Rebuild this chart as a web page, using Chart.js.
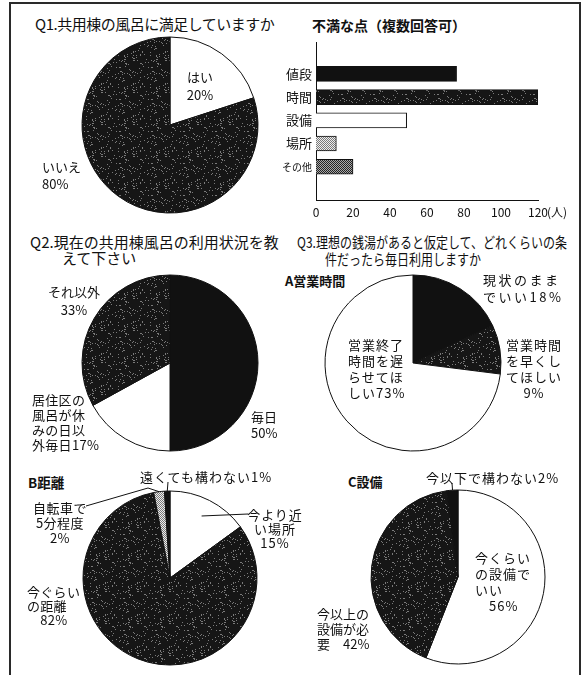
<!DOCTYPE html>
<html lang="ja">
<head>
<meta charset="utf-8">
<script src="https://cdn.jsdelivr.net/npm/chart.js@4.4.1/dist/chart.umd.min.js"></script>
<style>
  body { margin: 0; background: #fff; }
  #page { position: relative; width: 588px; height: 675px; overflow: hidden;
          font-family: 'Noto Sans CJK JP', sans-serif; color: #111; }
  #frame { position: absolute; left: 9px; top: 2px; width: 568px; height: 700px; border: 2px solid #2a2a2a; }
  .box { position: absolute; }
  .txt { position: absolute; white-space: pre; font-size: 13px; line-height: 16px; }
  .title { font-size: 15px; line-height: 18px; }
</style>
</head>
<body>
<div id="page"><div id="frame"></div></div>
<script>
// Q1 satisfied with the shared bath?
const q1Labels = ['はい', 'いいえ'];
const q1Values = [20, 80];

// complaints (multiple answers), people
const complaintLabels = ['値段', '時間', '設備', '場所', 'その他'];
const complaintValues = [76, 120, 49, 11, 20];
const complaintTicks = [0, 20, 40, 60, 80, 100, 120];

// Q2 current use
const q2Labels = ['毎日', '居住区の風呂が休みの日以外毎日', 'それ以外'];
const q2Values = [50, 17, 33];

// Q3 A opening hours
const hoursLabels = ['現状のままでいい', '営業時間を早くしてほしい', '営業終了時間を遅らせてほしい'];
const hoursValues = [18, 9, 73];

// Q3 B distance
const distanceLabels = ['今より近い場所', '今ぐらいの距離', '自転車で5分程度', '遠くても構わない'];
const distanceValues = [15, 82, 2, 1];

// Q3 C facilities
const facilityLabels = ['今くらいの設備でいい', '今以上の設備が必要', '今以下で構わない'];
const facilityValues = [56, 42, 2];

const FONT = "'Noto Sans CJK JP', sans-serif";
const page = document.getElementById('page');

// dotted texture like the printed screen tone
function speckle(bg, dot, density) {
    const c = document.createElement('canvas'); c.width = 32; c.height = 32;
    const g = c.getContext('2d');
    g.fillStyle = bg; g.fillRect(0, 0, 32, 32);
    g.fillStyle = dot;
    let s = 7;
    for (let y = 0; y < 32; y++) for (let x = 0; x < 32; x++) {
        s = (Math.imul(s, 1664525) + 1013904223) >>> 0;
        if (s / 4294967296 < density) g.fillRect(x, y, 1, 1);
    }
    return g.createPattern(c, 'repeat');
}

// 2x2 checker texture
function checker(a, b) {
    const c = document.createElement('canvas'); c.width = 2; c.height = 2;
    const g = c.getContext('2d');
    g.fillStyle = b; g.fillRect(0, 0, 2, 2);
    g.fillStyle = a; g.fillRect(0, 0, 1, 1); g.fillRect(1, 1, 1, 1);
    return g.createPattern(c, 'repeat');
}

const WHITE = '#ffffff', BLACK = '#111111';
const DARK = speckle('#161616', '#7a7a7a', 0.07);
const LIGHT = checker('#7a7a7a', '#eeeeee');
const MID = checker('#222222', '#a8a8a8');

function addText(text, x, y, o) {
    o = o || {};
    const d = document.createElement('div');
    d.className = 'txt' + (o.cls ? ' ' + o.cls : '');
    d.textContent = text;
    d.style.left = x + 'px'; d.style.top = y + 'px';
    if (o.size) d.style.fontSize = o.size + 'px';
    if (o.lh) d.style.lineHeight = o.lh + 'px';
    if (o.ls) d.style.letterSpacing = o.ls + 'px';
    if (o.bold) d.style.fontWeight = 'bold';
    if (o.align === 'center') { d.style.textAlign = 'center'; d.style.transform = 'translateX(-50%)'; }
    if (o.scaleX) { d.style.transformOrigin = '0 0'; d.style.transform = 'scaleX(' + o.scaleX + ')'; }
    page.appendChild(d);
}

// slice name broken into lines + percentage
function sliceText(name, value, chunks, sep) {
    const lines = []; let pos = 0;
    chunks.forEach(n => { lines.push(name.slice(pos, pos + n)); pos += n; });
    lines.push(name.slice(pos));
    return lines.join('\n') + sep + value + '%';
}

// leader lines from a slice to its label
const leaderPlugin = {
    id: 'leaders',
    afterDraw(chart, args, opts) {
        const arcs = chart.getDatasetMeta(0).data;
        const ctx = chart.ctx;
        ctx.save(); ctx.strokeStyle = '#111'; ctx.lineWidth = 1;
        (opts.lines || []).forEach(l => {
            const a = arcs[l.index];
            const mid = (a.startAngle + a.endAngle) / 2;
            const rr = a.outerRadius * l.from;
            ctx.beginPath();
            ctx.moveTo(a.x + Math.cos(mid) * rr, a.y + Math.sin(mid) * rr);
            l.to.forEach(p => ctx.lineTo(p[0] - opts.bx, p[1] - opts.by));
            ctx.stroke();
        });
        ctx.restore();
    }
};

function makeBox(x, y, w, h) {
    const wrap = document.createElement('div');
    wrap.className = 'box';
    wrap.style.left = x + 'px'; wrap.style.top = y + 'px';
    wrap.style.width = w + 'px'; wrap.style.height = h + 'px';
    const canvas = document.createElement('canvas');
    wrap.appendChild(canvas); page.appendChild(wrap);
    return canvas;
}

function makePie(p) {
    const b = p.box;
    const canvas = makeBox(b[0], b[1], b[2], b[3]);
    const r = p.r + 0.5;
    new Chart(canvas, {
        type: 'pie',
        data: {
            labels: p.labels,
            datasets: [{ data: p.values, backgroundColor: p.colors, borderColor: '#111', borderWidth: 1 }]
        },
        options: {
            responsive: true, maintainAspectRatio: false, animation: false,
            layout: { padding: {
                left: p.cx - r - b[0], top: p.cy - r - b[1],
                right: b[0] + b[2] - p.cx - r, bottom: b[1] + b[3] - p.cy - r } },
            plugins: { legend: { display: false }, tooltip: { enabled: false },
                leaders: { lines: p.leaders || [], bx: b[0], by: b[1] } }
        },
        plugins: [leaderPlugin]
    });
    p.text.forEach((t, i) => {
        addText(sliceText(p.labels[i], p.values[i], t.chunks, t.sep), t.x, t.y,
            { align: t.align, lh: t.lh, ls: t.ls });
    });
}

// titles
addText('Q1.共用棟の風呂に満足していますか', 35, 15, { cls: 'title', ls: -0.5 });
addText('不満な点（複数回答可）', 312, 16, { size: 14, lh: 18, bold: true });
addText('Q2.現在の共用棟風呂の利用状況を教', 30, 233, { cls: 'title' });
addText('えて下さい', 62, 249, { cls: 'title' });
addText('Q3.理想の銭湯があると仮定して、どれくらいの条', 297, 233, { cls: 'title', scaleX: 0.8 });
addText('件だったら毎日利用しますか', 325, 250, { cls: 'title', scaleX: 0.8 });
addText('A営業時間', 285, 273, { bold: true });
addText('B距離', 28, 474, { bold: true, size: 13.5 });
addText('C設備', 348, 474, { bold: true });

makePie({
    labels: q1Labels, values: q1Values, colors: [WHITE, DARK],
    cx: 170, cy: 125, r: 88, box: [80, 35, 180, 182],
    text: [
        { chunks: [], sep: '\n', x: 200, y: 68, align: 'center', lh: 18 },
        { chunks: [], sep: '\n', x: 42, y: 158, lh: 17 }
    ]
});

makePie({
    labels: q2Labels, values: q2Values, colors: [BLACK, WHITE, DARK],
    cx: 170, cy: 363, r: 88, box: [80, 273, 180, 180],
    text: [
        { chunks: [], sep: '\n', x: 251, y: 409, lh: 16 },
        { chunks: [4, 4, 4], sep: '', x: 32, y: 392, lh: 15, ls: 0.3 },
        { chunks: [], sep: '\n', x: 74, y: 283, align: 'center', lh: 18 }
    ]
});

makePie({
    labels: hoursLabels, values: hoursValues, colors: [BLACK, DARK, WHITE],
    cx: 413, cy: 363, r: 88, box: [323, 273, 180, 180],
    text: [
        { chunks: [5], sep: '', x: 483, y: 271, lh: 17, ls: 2.5 },
        { chunks: [4, 4], sep: '\n', x: 534, y: 337, align: 'center', lh: 16, ls: 1 },
        { chunks: [4, 4, 4], sep: '', x: 348, y: 337, lh: 16, ls: 1 }
    ]
});

makePie({
    labels: distanceLabels, values: distanceValues, colors: [WHITE, DARK, LIGHT, BLACK],
    cx: 170, cy: 578, r: 87, box: [20, 470, 280, 205],
    leaders: [
        { index: 3, from: 1.0, to: [[168, 482]] },
        { index: 2, from: 1.0, to: [[148, 488], [86, 506]] },
        { index: 0, from: 0.8, to: [[248, 514]] }
    ],
    text: [
        { chunks: [4], sep: '\n', x: 275, y: 508, align: 'center', lh: 14, ls: 1 },
        { chunks: [4], sep: '\n\u3000', x: 27, y: 585, lh: 14, ls: 0.3 },
        { chunks: [4], sep: '\n', x: 60, y: 500, align: 'center', lh: 15, ls: 0.5 },
        { chunks: [], sep: '', x: 140, y: 469, ls: 1 }
    ]
});

makePie({
    labels: facilityLabels, values: facilityValues, colors: [WHITE, DARK, BLACK],
    cx: 458, cy: 577, r: 87, box: [300, 470, 275, 205],
    leaders: [{ index: 2, from: 1.0, to: [[452, 483]] }],
    text: [
        { chunks: [4, 4], sep: '\n\u3000', x: 475, y: 550, lh: 16, ls: 1 },
        { chunks: [4, 4], sep: '\u3000', x: 317, y: 606, lh: 15 },
        { chunks: [], sep: '', x: 426, y: 470, ls: 1 }
    ]
});

// complaints bar chart
const complaintColors = [BLACK, DARK, WHITE, LIGHT, MID];
const barCanvas = makeBox(270, 30, 290, 190);
new Chart(barCanvas, {
    type: 'bar',
    data: {
        datasets: [{
            data: complaintValues.map((v, i) => ({ x: v, y: i })),
            backgroundColor: complaintColors, borderColor: '#111', borderWidth: 1, barThickness: 15
        }]
    },
    options: {
        indexAxis: 'y', responsive: true, maintainAspectRatio: false, animation: false,
        layout: { padding: { top: 12, right: 22, left: 0, bottom: 0 } },
        plugins: { legend: { display: false }, tooltip: { enabled: false } },
        scales: {
            x: {
                type: 'linear', min: 0, max: 120,
                grid: { display: false, drawTicks: false },
                border: { color: '#111', width: 1 },
                afterBuildTicks: s => { s.ticks = complaintTicks.map(v => ({ value: v })); },
                afterFit: s => { s.height = 20; },
                ticks: { color: '#111', font: { size: 12, family: FONT }, padding: 5, maxRotation: 0, autoSkip: false }
            },
            y: {
                type: 'linear', min: -0.69, max: 4.75, reverse: true,
                grid: { display: false, drawTicks: false },
                border: { color: '#111', width: 1 },
                afterBuildTicks: s => { s.ticks = complaintLabels.map((_, i) => ({ value: i })); },
                afterFit: s => { s.width = 46; },
                ticks: {
                    callback: v => complaintLabels[v], color: '#111', padding: 4, autoSkip: false,
                    font: c => ({ size: (complaintLabels[c.index] || '').length > 2 ? 10 : 13, family: FONT })
                }
            }
        }
    }
});
addText('(人)', 547, 204, { size: 12 });
</script>
</body>
</html>
